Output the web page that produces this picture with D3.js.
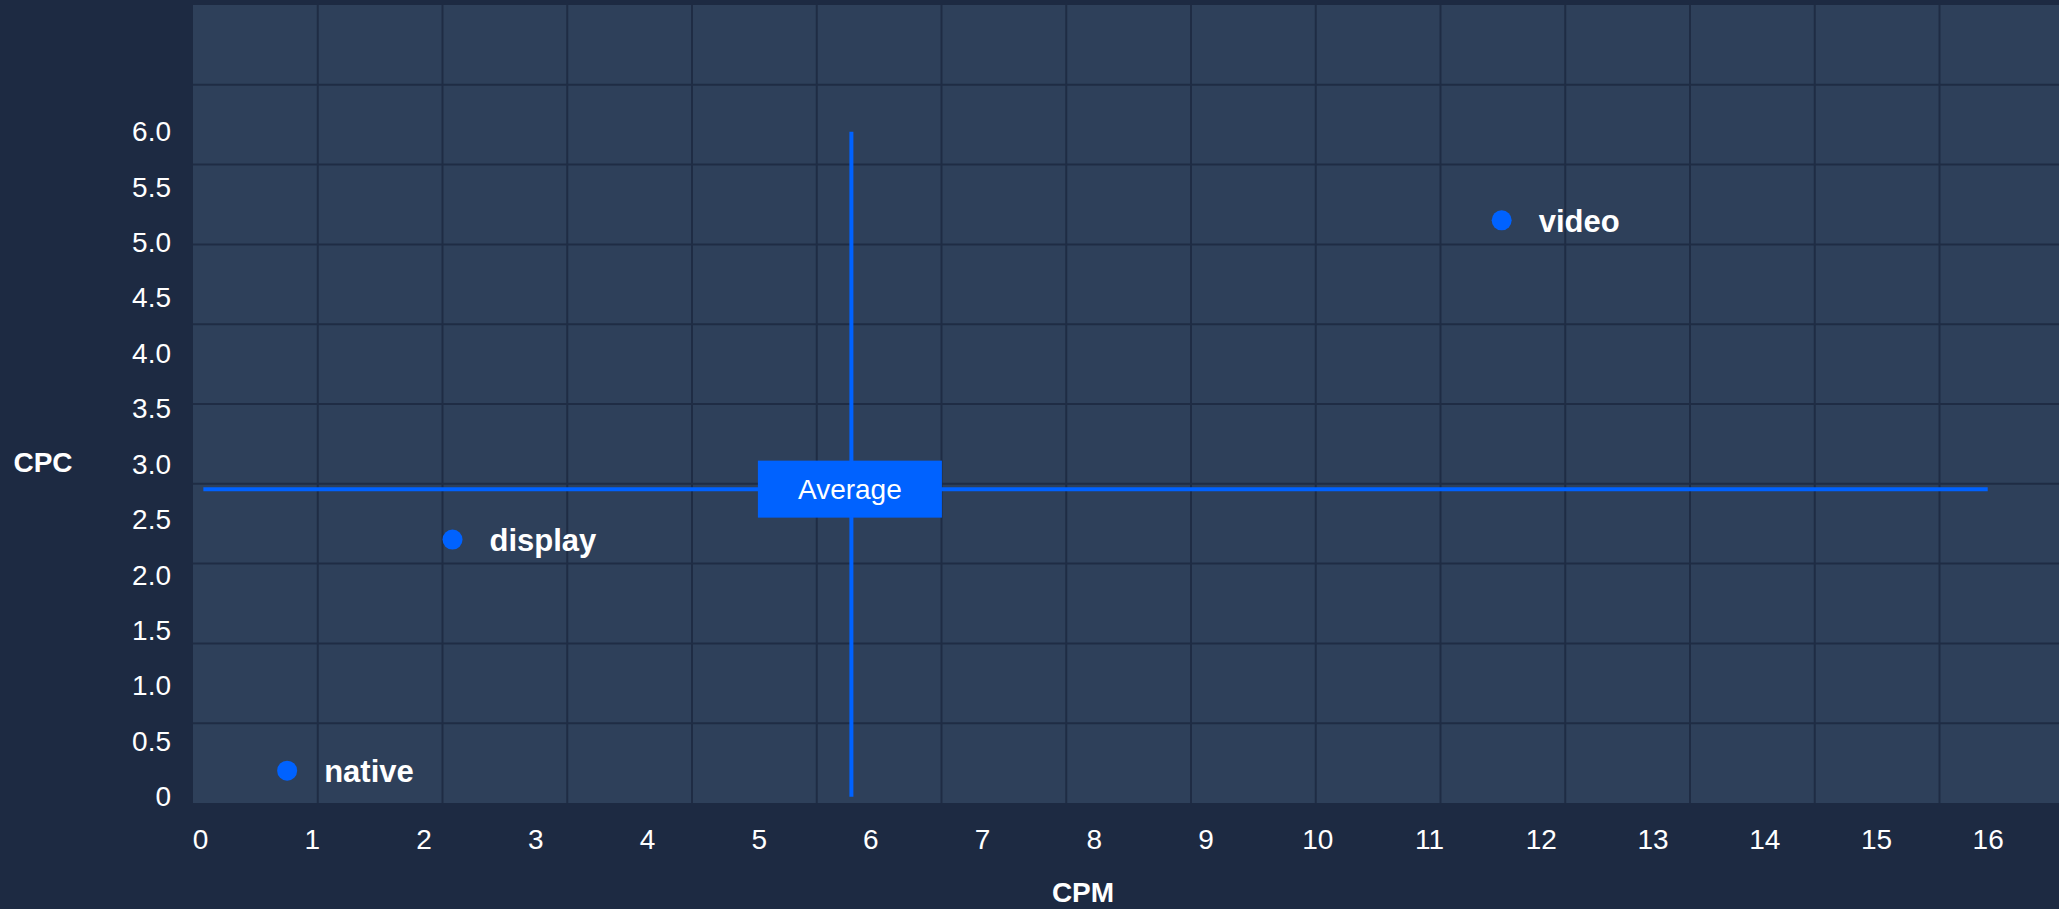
<!DOCTYPE html>
<html>
<head>
<meta charset="utf-8">
<script src="https://cdn.jsdelivr.net/npm/d3@7"></script>
<style>
  html, body { margin: 0; padding: 0; background: #1d2a42; }
  svg { display: block; }
  text { font-family: "Liberation Sans", Arial, sans-serif; fill: #ffffff; }
</style>
</head>
<body>
<svg id="chart" width="2059" height="909"></svg>
<script>
// Channels: CPM (x) against CPC (y)
const channels = ["native", "display", "video"];
const cpmValues = [0.78, 2.26, 11.65];
const cpcValues = [0.235, 2.32, 5.2];

// Reference averages drawn as crosshair lines
const averageCpm = 5.83;
const averageCpc = 2.775;

// Axis tick labels
const xTickValues = [0, 1, 2, 3, 4, 5, 6, 7, 8, 9, 10, 11, 12, 13, 14, 15, 16];
const yTickValues = [0, 0.5, 1, 1.5, 2, 2.5, 3, 3.5, 4, 4.5, 5, 5.5, 6];
const yTickLabels = ["0", "0.5", "1.0", "1.5", "2.0", "2.5", "3.0", "3.5", "4.0", "4.5", "5.0", "5.5", "6.0"];

const points = channels.map((name, i) => ({ name, cpm: cpmValues[i], cpc: cpcValues[i] }));

const W = 2059, H = 909;
const svg = d3.select("#chart");

const colors = {
  page: "#1d2a42",
  panel: "#2e405a",
  grid: "#1f2c44",
  accent: "#0062ff",
  text: "#ffffff"
};

// Background panel with a fixed cell grid (cells 124.75 x 79.8 px)
const panel = { left: 193, top: 5, right: W, bottom: 803 };
const cellW = 124.75;
svg.append("rect")
  .attr("x", panel.left).attr("y", panel.top)
  .attr("width", panel.right - panel.left).attr("height", panel.bottom - panel.top)
  .attr("fill", colors.panel);

const gridX = d3.scaleLinear().domain([0, 15]).range([panel.left, panel.left + 15 * cellW]);
const gridY = d3.scaleLinear().domain([0, 10]).range([panel.top, panel.bottom]);
const grid = svg.append("g").attr("stroke", colors.grid).attr("stroke-width", 2);
grid.selectAll("line.v").data(d3.range(1, 15)).join("line")
  .attr("class", "v")
  .attr("x1", d => gridX(d)).attr("x2", d => gridX(d))
  .attr("y1", panel.top).attr("y2", panel.bottom);
grid.selectAll("line.h").data(d3.range(1, 10)).join("line")
  .attr("class", "h")
  .attr("x1", panel.left).attr("x2", panel.right)
  .attr("y1", d => gridY(d)).attr("y2", d => gridY(d));

// Data scales
const x = d3.scaleLinear().domain([0, 16]).range([200, 1987.7]);
const y = d3.scaleLinear().domain([0, 6]).range([796.7, 131.7]);

// Y axis labels
const yAxis = svg.append("g")
  .attr("transform", "translate(171,0)")
  .call(d3.axisLeft(y).tickValues(yTickValues)
    .tickFormat((d, i) => yTickLabels[i]).tickSize(0).tickPadding(0));
yAxis.select(".domain").remove();
yAxis.selectAll("text")
  .attr("fill", colors.text)
  .style("font-size", "28px")
  .style("font-family", "'Liberation Sans', Arial, sans-serif");

// X axis labels
const xAxis = svg.append("g")
  .attr("transform", "translate(0,829)")
  .call(d3.axisBottom(x).tickValues(xTickValues)
    .tickFormat(d3.format("d")).tickSize(0).tickPadding(0));
xAxis.select(".domain").remove();
xAxis.selectAll("text")
  .attr("fill", colors.text)
  .style("font-size", "28px")
  .style("font-family", "'Liberation Sans', Arial, sans-serif");

// Axis titles
svg.append("text")
  .attr("x", 43).attr("y", 462).attr("dy", "0.35em")
  .attr("text-anchor", "middle")
  .style("font-size", "28px").style("font-weight", "bold")
  .text("CPC");
svg.append("text")
  .attr("x", 1083).attr("y", 892).attr("dy", "0.35em")
  .attr("text-anchor", "middle")
  .style("font-size", "28px").style("font-weight", "bold")
  .text("CPM");

// Average crosshair
const avg = svg.append("g").attr("stroke", colors.accent).attr("stroke-width", 4);
avg.append("line")
  .attr("x1", x(averageCpm)).attr("x2", x(averageCpm))
  .attr("y1", y(6)).attr("y2", y(0));
avg.append("line")
  .attr("x1", x(0.03)).attr("x2", x(16))
  .attr("y1", y(averageCpc)).attr("y2", y(averageCpc));

const boxW = 184, boxH = 57;
svg.append("rect")
  .attr("x", x(averageCpm) - 1.5 - boxW / 2).attr("y", y(averageCpc) - boxH / 2)
  .attr("width", boxW).attr("height", boxH)
  .attr("fill", colors.accent);
svg.append("text")
  .attr("x", x(averageCpm) - 1.5).attr("y", y(averageCpc)).attr("dy", "0.35em")
  .attr("text-anchor", "middle")
  .style("font-size", "28px")
  .text("Average");

// Channel points with labels
const pts = svg.append("g").selectAll("g").data(points).join("g")
  .attr("transform", d => `translate(${x(d.cpm)},${y(d.cpc)})`);
pts.append("circle").attr("r", 10).attr("fill", colors.accent);
pts.append("text")
  .attr("x", 37).attr("dy", "0.36em")
  .style("font-size", "31px").style("font-weight", "bold")
  .text(d => d.name);
</script>
</body>
</html>
